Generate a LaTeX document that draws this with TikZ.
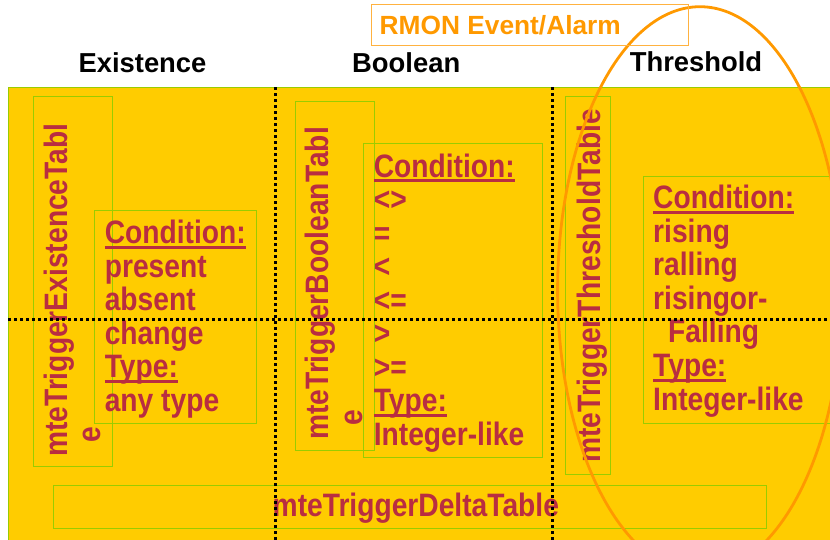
\documentclass[tikz,border=0pt]{standalone}
\usepackage{fontspec}
\setmainfont{Liberation Sans}
\usepackage{graphicx}

\definecolor{goldbg}{RGB}{255,204,0}
\definecolor{boxgreen}{RGB}{153,204,0}
\definecolor{rmonorange}{RGB}{255,153,0}
\definecolor{trigred}{RGB}{185,45,65}

% slightly taller letters, and a heavy underline
\newcommand{\tall}[1]{\scalebox{1}[1.15]{#1}}
\newcommand{\redul}[1]{\setbox0\hbox{#1}\rlap{\rule[-4.4pt]{\wd0}{2.6pt}}\box0}

\begin{document}
\begin{tikzpicture}[x=1pt, y=-1pt,
        head/.style={inner sep=0, anchor=base, font=\bfseries\fontsize{27.4}{30}\selectfont},
        cond/.style={inner sep=0, anchor=base west, text=trigred, font=\bfseries\fontsize{28.2}{30}\selectfont},
        vtext/.style={cond, rotate=90},
        box/.style={draw=boxgreen, line width=0.9pt},
        grid/.style={line width=3pt, dash pattern=on 3pt off 3pt},
        oval/.style={draw=rmonorange, line width=2.8pt}
    ]
        \useasboundingbox (0,0) rectangle (830,539);
        \clip (0,0) rectangle (830,539);

        % === Background ===
        \draw[fill=goldbg, draw=boxgreen, line width=1pt] (8,87) rectangle (850,560);

        % === Table boxes ===
        \draw[box] (33.5,96) rectangle (112.5,466);
        \draw[box] (94.7,210) rectangle (256,423.3);
        \draw[box] (295.7,101.7) rectangle (374.7,450.3);
        \draw[box] (363.2,143.3) rectangle (542.7,457.3);
        \draw[box] (565.6,96.7) rectangle (610.3,474);
        \draw[box] (643.2,176.7) rectangle (850,423.3);
        \draw[box] (53,485.7) rectangle (766.5,528);

        % === Existence ===
        \node[vtext] (exTab) at (67,457) {\tall{mteTriggerExistenceTabl}};
        \node[vtext] (exTabE) at (100,443) {\tall{e}};
        \foreach \t [count=\i] in {\redul{Condition:}, present, absent, change, \redul{Type:}, any type}
            \node[cond] (ex\i) at (104.6, {243.5+33.5*(\i-1)}) {\tall{\t}};

        % === Boolean ===
        \node[vtext] (boTab) at (328,440) {\tall{mteTriggerBooleanTabl}};
        \node[vtext] (boTabE) at (362,426) {\tall{e}};
        \foreach \t [count=\i] in {\redul{Condition:}, <>, =, <, <=, >, >=, \redul{Type:}, Integer-like}
            \node[cond] (bo\i) at (373.6, {177+33.5*(\i-1)}) {\tall{\t}};

        % === Threshold ===
        \node[vtext] (thTab) at (600,463) {\tall{mteTriggerThresholdTable}};
        \foreach \t [count=\i] in {\redul{Condition:}, rising, ralling, risingor-, \hspace*{15pt}Falling, \redul{Type:}, Integer-like}
            \node[cond] (th\i) at (653, {208.5+33.6*(\i-1)}) {\tall{\t}};

        % === Delta ===
        \node[cond] (deltaTab) at (272.5,516) {\tall{mteTriggerDeltaTable}};

        % dotted grid
        \draw[grid] (275.7,87) -- (275.7,545);
        \draw[grid] (552.8,87) -- (552.8,545);
        \draw[grid] (8,319) -- (835,319);

        % RMON oval
        \draw[oval] (700,290) ellipse [x radius=142.4pt, y radius=283.3pt];

        % === Headings ===
        \node[head] (hExist) at (142.5,72.7) {Existence};
        \node[head] (hBool) at (406.2,72.3) {Boolean};
        \node[head] (hThresh) at (696,71.7) {Threshold};

        \draw[draw=rmonorange!75, line width=0.9pt] (371.7,4.3) rectangle (688.3,45);
        \node[inner sep=0, anchor=base west, text=rmonorange, font=\bfseries\fontsize{26.3}{30}\selectfont] (rmon) at (379.5,34.3) {RMON Event/Alarm};
    \end{tikzpicture}
\end{document}
